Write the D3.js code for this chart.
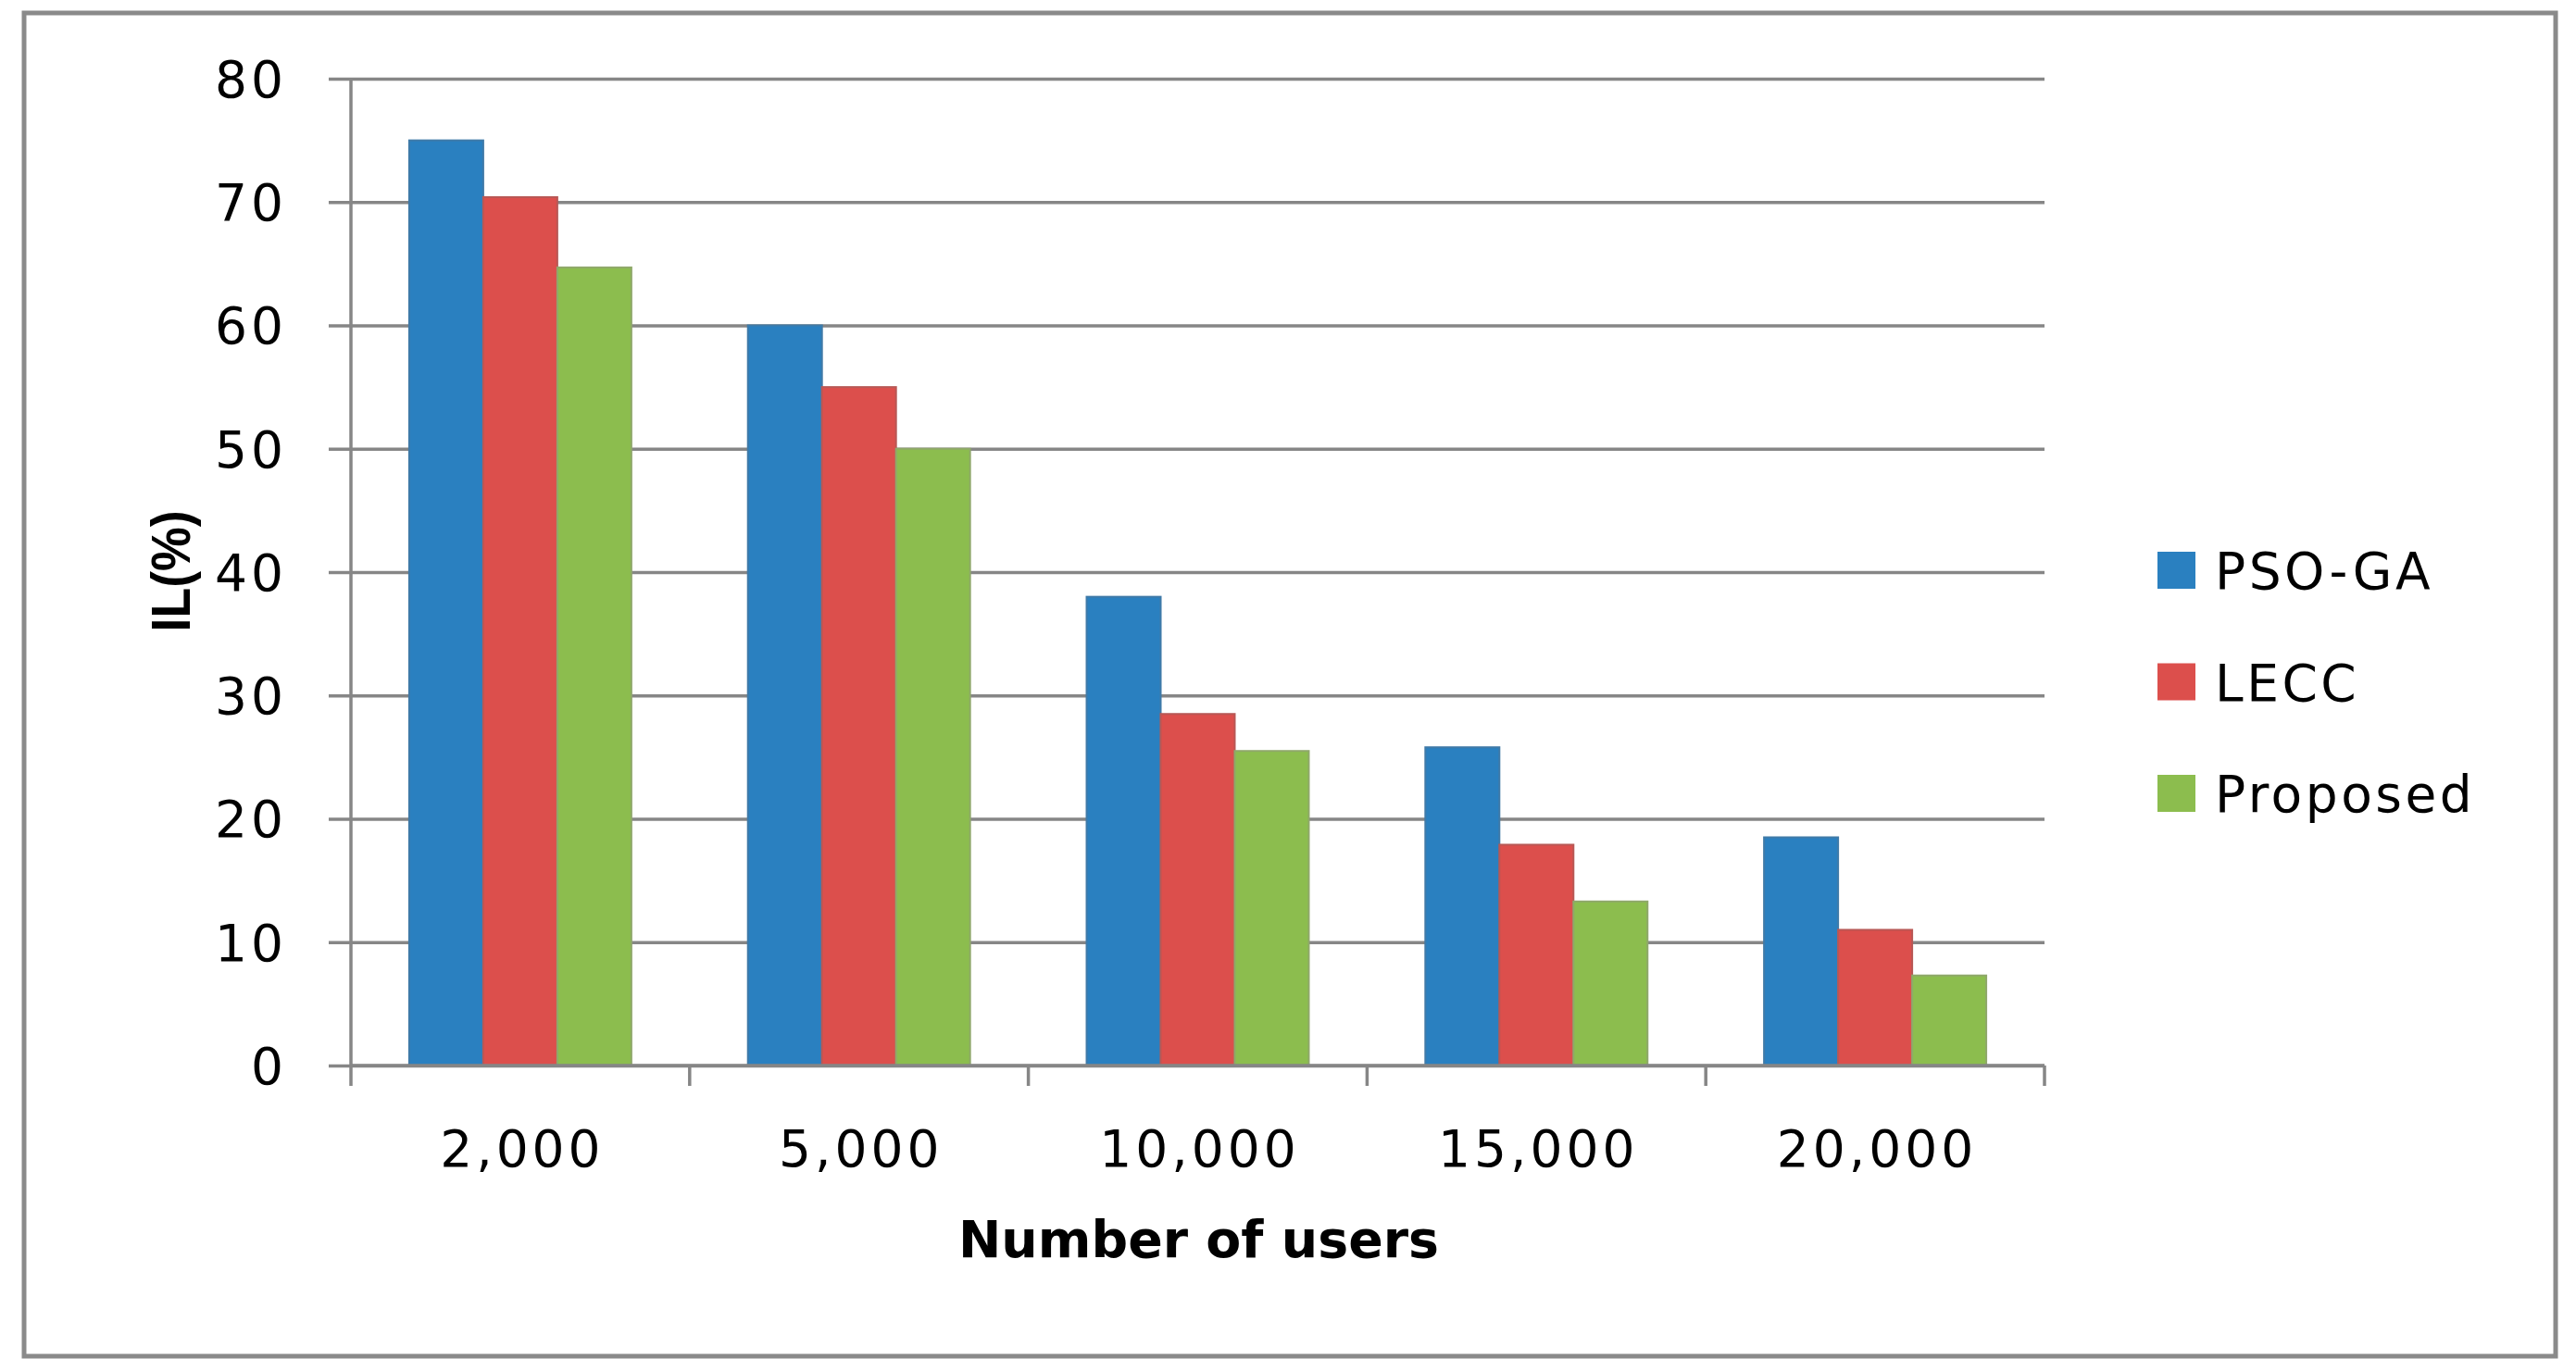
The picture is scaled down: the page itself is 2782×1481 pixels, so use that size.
<!DOCTYPE html>
<html>
<head>
<meta charset="utf-8">
<script src="https://cdn.jsdelivr.net/npm/d3@7"></script>
<style>
  body { margin: 0; background: #fff; }
  svg { display: block; }
</style>
</head>
<body>
<div id="chart"></div>
<script>
// data
const categories = ["2,000", "5,000", "10,000", "15,000", "20,000"];
const seriesNames = ["PSO-GA", "LECC", "Proposed"];
const psoGA = [75, 60, 38, 25.8, 18.5];
const lecc = [70.4, 55, 28.5, 17.9, 11];
const proposed = [64.7, 50, 25.5, 13.3, 7.3];
const yTicks = [0, 10, 20, 30, 40, 50, 60, 70, 80];

const colors = ["#2a80c0", "#dc4f4c", "#8cbd4e"];
const strokes = ["#3f7aa8", "#b85855", "#8fa86a"];

const W = 2782, H = 1481;
const margin = {top: 85, right: 574, bottom: 330, left: 379};
const width = W - margin.left - margin.right;
const height = H - margin.top - margin.bottom;

const rows = categories.map((c, i) => ({cat: c, values: [psoGA[i], lecc[i], proposed[i]]}));

const svg = d3.select("#chart")
  .append("svg")
  .attr("width", W)
  .attr("height", H);

// outer frame
svg.append("rect")
  .attr("x", 26).attr("y", 14)
  .attr("width", 2734).attr("height", 1451)
  .attr("fill", "none")
  .attr("stroke", "#8a8a8a")
  .attr("stroke-width", 5);

const g = svg.append("g")
  .attr("transform", `translate(${margin.left}, ${margin.top})`);

const x0 = d3.scaleBand()
  .domain(categories)
  .range([0, width])
  .paddingInner(0.344)
  .paddingOuter(0.172);

const x1 = d3.scaleBand()
  .domain(seriesNames)
  .range([0, x0.bandwidth()]);

const y = d3.scaleLinear()
  .domain([0, 80])
  .range([height, 0]);

// gridlines + y axis ticks
const yAxis = g.append("g")
  .call(d3.axisLeft(y).tickValues(yTicks).tickSize(-width).tickSizeOuter(0).tickPadding(0).tickFormat(""));
yAxis.select(".domain").remove();
yAxis.selectAll(".tick line")
  .attr("x1", -24)
  .attr("stroke", "#868686")
  .attr("stroke-width", 3.5);

// y tick labels
g.append("g")
  .selectAll("text")
  .data(yTicks)
  .join("text")
    .attr("x", -69)
    .attr("y", d => y(d))
    .attr("dy", "0.36em")
    .attr("text-anchor", "end")
    .style("font-family", "DejaVu Sans")
    .style("font-size", "55px")
    .style("letter-spacing", "4px")
    .attr("fill", "#000")
    .text(d => d);

// y axis line
g.append("line")
  .attr("x1", 0).attr("x2", 0)
  .attr("y1", 0).attr("y2", height)
  .attr("stroke", "#868686")
  .attr("stroke-width", 3.5);

// bars
g.append("g")
  .selectAll("g")
  .data(rows)
  .join("g")
    .attr("transform", d => `translate(${x0(d.cat)}, 0)`)
  .selectAll("rect")
  .data(d => d.values.map((v, i) => ({name: seriesNames[i], value: v, i: i})))
  .join("rect")
    .attr("x", d => x1(d.name))
    .attr("y", d => y(d.value))
    .attr("width", x1.bandwidth())
    .attr("height", d => height - y(d.value))
    .attr("fill", d => colors[d.i])
    .attr("stroke", d => strokes[d.i])
    .attr("stroke-width", 2);

// x axis with ticks at category boundaries
const step = x0.step();
const boundaries = d3.range(categories.length + 1).map(i => i * step);
g.append("line")
  .attr("x1", 0).attr("x2", width)
  .attr("y1", height).attr("y2", height)
  .attr("stroke", "#868686")
  .attr("stroke-width", 3.5);
g.append("g")
  .selectAll("line")
  .data(boundaries)
  .join("line")
    .attr("x1", d => d).attr("x2", d => d)
    .attr("y1", height).attr("y2", height + 22)
    .attr("stroke", "#868686")
    .attr("stroke-width", 3.5);

// x tick labels
g.append("g")
  .selectAll("text")
  .data(categories)
  .join("text")
    .attr("x", d => x0(d) + x0.bandwidth() / 2 + 2)
    .attr("y", height + 109)
    .attr("text-anchor", "middle")
    .style("font-family", "DejaVu Sans")
    .style("font-size", "55px")
    .style("letter-spacing", "4px")
    .attr("fill", "#000")
    .text(d => d);

// x axis title
g.append("text")
  .attr("x", width / 2 + 1)
  .attr("y", height + 207)
  .attr("text-anchor", "middle")
  .style("font-family", "DejaVu Sans")
  .style("font-weight", "bold")
  .style("font-size", "55px")
  .attr("textLength", 519)
  .attr("lengthAdjust", "spacingAndGlyphs")
  .attr("fill", "#000")
  .text("Number of users");

// y axis title
svg.append("text")
  .attr("transform", "translate(205, 617) rotate(-90)")
  .attr("text-anchor", "middle")
  .style("font-family", "Liberation Sans")
  .style("font-weight", "bold")
  .style("font-size", "60px")
  .attr("textLength", 131)
  .attr("lengthAdjust", "spacingAndGlyphs")
  .attr("fill", "#000")
  .text("IL(%)");

// legend
const legend = svg.append("g")
  .attr("transform", "translate(2330, 596)");
const items = legend.selectAll("g")
  .data(seriesNames)
  .join("g")
    .attr("transform", (d, i) => `translate(0, ${i * 120.5})`);
items.append("rect")
  .attr("width", 41)
  .attr("height", 40)
  .attr("fill", (d, i) => colors[i]);
items.append("text")
  .attr("x", 62)
  .attr("y", 40)
  .style("font-family", "DejaVu Sans")
  .style("font-size", "55px")
  .style("letter-spacing", "3.5px")
  .attr("fill", "#000")
  .text(d => d);
</script>
</body>
</html>
